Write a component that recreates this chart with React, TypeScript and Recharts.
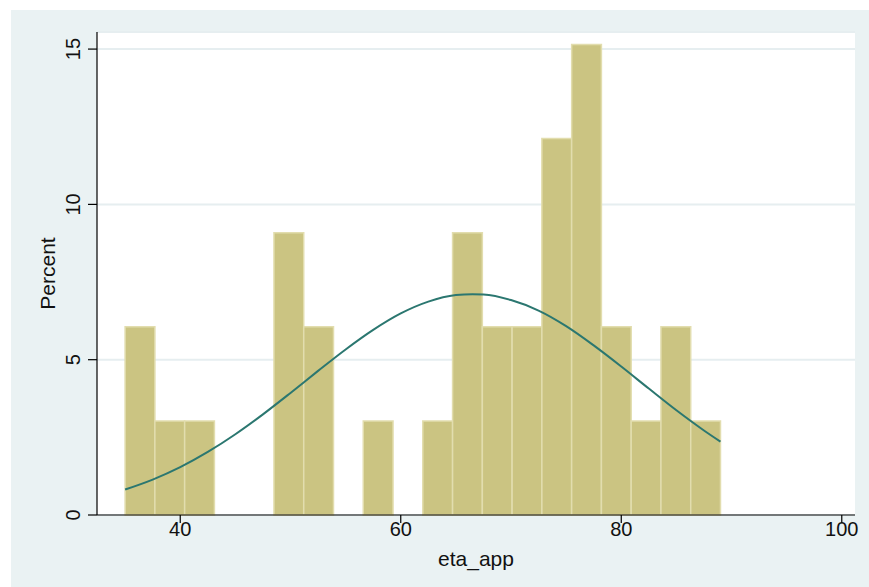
import React from "react";
import {
  ComposedChart,
  Line,
  XAxis,
  YAxis,
  CartesianGrid,
  ReferenceArea,
} from "recharts";

// Histogram bins of eta_app (start, end) and their percentages
const binStarts = [35, 37.7, 40.4, 43.1, 45.8, 48.5, 51.2, 53.9, 56.6, 59.3, 62, 64.7, 67.4, 70.1, 72.8, 75.5, 78.2, 80.9, 83.6, 86.3];
const binEnds = [37.7, 40.4, 43.1, 45.8, 48.5, 51.2, 53.9, 56.6, 59.3, 62, 64.7, 67.4, 70.1, 72.8, 75.5, 78.2, 80.9, 83.6, 86.3, 89];
const percents = [6.06, 3.03, 3.03, 0, 0, 9.09, 6.06, 0, 3.03, 0, 3.03, 9.09, 6.06, 6.06, 12.12, 15.15, 6.06, 3.03, 6.06, 3.03];

// Normal density overlay
const curveX = [35, 37.5, 40, 42.5, 45, 47.5, 50, 52.5, 55, 57.5, 60, 62.5, 65, 66.5, 67.5, 70, 72.5, 75, 77.5, 80, 82.5, 85, 87.5, 89];
const curveY = [0.82, 1.14, 1.54, 2.03, 2.6, 3.24, 3.93, 4.64, 5.33, 5.96, 6.49, 6.87, 7.08, 7.11, 7.1, 6.92, 6.58, 6.08, 5.46, 4.78, 4.07, 3.37, 2.72, 2.36];

const xTicks = [40, 60, 80, 100];
const yTicks = [0, 5, 10, 15];

const curveData = curveX.map((x, i) => ({ x, y: curveY[i] }));

const FONT = "'Liberation Sans', Arial, Helvetica, sans-serif";

const XTick = (props: any) => {
  const { x, y, payload } = props;
  return (
    <text x={x} y={y + 13} textAnchor="middle" fontSize={20} fontFamily={FONT} fill="#111">
      {payload.value}
    </text>
  );
};

const YTick = (props: any) => {
  const { x, y, payload } = props;
  return (
    <text
      x={x}
      y={y}
      transform={`rotate(-90, ${x}, ${y})`}
      textAnchor="middle"
      fontSize={20}
      fontFamily={FONT}
      fill="#111"
    >
      {payload.value}
    </text>
  );
};

export default function App() {
  return (
    <div style={{ position: "absolute", left: 0, top: 0, width: 869, height: 587, background: "#fff" }}>
      <div style={{ position: "absolute", left: 11, top: 10, width: 858, height: 577, background: "#EAF2F3" }} />
      <div style={{ position: "absolute", left: 0, top: 0 }}>
        <ComposedChart
          width={869}
          height={587}
          data={curveData}
          margin={{ top: 32, right: 14, bottom: 0, left: 0 }}
        >
          <CartesianGrid
            vertical={false}
            stroke="#E6EEF0"
            strokeWidth={2}
            fill="#ffffff"
            fillOpacity={1}
          />
          <XAxis
            dataKey="x"
            type="number"
            domain={[32.45, 101.2]}
            ticks={xTicks}
            allowDataOverflow
            height={72}
            tickSize={8}
            tickMargin={0}
            axisLine={{ stroke: "#000", strokeWidth: 1.2 }}
            tickLine={{ stroke: "#000", strokeWidth: 1.2 }}
            tick={<XTick />}
            label={(p: any) => {
              const vb = p.viewBox;
              return (
                <text
                  x={vb.x + vb.width / 2}
                  y={vb.y + 51}
                  textAnchor="middle"
                  fontSize={21}
                  fontFamily={FONT}
                  fill="#111"
                >
                  eta_app
                </text>
              );
            }}
          />
          <YAxis
            type="number"
            domain={[0, 15.55]}
            ticks={yTicks}
            allowDataOverflow
            width={97}
            tickSize={9}
            tickMargin={8}
            axisLine={{ stroke: "#000", strokeWidth: 1.2 }}
            tickLine={{ stroke: "#000", strokeWidth: 1.2 }}
            tick={<YTick />}
            label={(p: any) => {
              const vb = p.viewBox;
              const cx = vb.x + 55;
              const cy = vb.y + vb.height / 2;
              return (
                <text
                  x={cx}
                  y={cy}
                  transform={`rotate(-90, ${cx}, ${cy})`}
                  textAnchor="middle"
                  fontSize={21}
                  fontFamily={FONT}
                  fill="#111"
                >
                  Percent
                </text>
              );
            }}
          />
          {percents.map((v, i) =>
            v > 0 ? (
              <ReferenceArea
                key={i}
                x1={binStarts[i]}
                x2={binEnds[i]}
                y1={0}
                y2={v}
                fill="#CBC482"
                fillOpacity={1}
                stroke="#E2DDAE"
                strokeWidth={1.5}
                strokeOpacity={1}
                ifOverflow="visible"
              />
            ) : null
          )}
          <Line
            dataKey="y"
            type="monotone"
            stroke="#2B7770"
            strokeWidth={2}
            dot={false}
            activeDot={false}
            isAnimationActive={false}
          />
        </ComposedChart>
      </div>
    </div>
  );
}
